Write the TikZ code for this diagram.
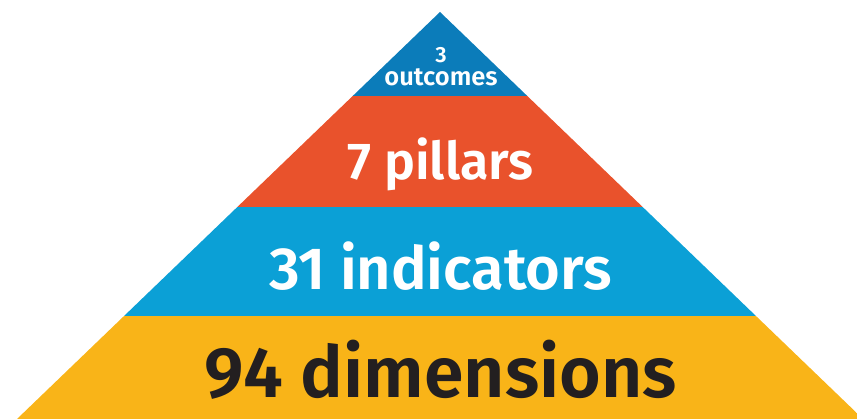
\documentclass[tikz,border=0pt]{standalone}
\usepackage{fontspec}
\setmainfont{Fira Sans}[BoldFont={Fira Sans SemiBold}]

\definecolor{topblue}{RGB}{11,124,186}
\definecolor{pillarred}{RGB}{233,82,44}
\definecolor{midblue}{RGB}{11,160,214}
\definecolor{baseyellow}{RGB}{249,180,24}
\definecolor{inkdark}{RGB}{35,31,32}

\tikzset{
    level/.style={font=\bfseries, anchor=base, inner sep=0pt},
}

\begin{document}
\begin{tikzpicture}[x=1pt,y=-1pt]

%page frame
\useasboundingbox (0,0) rectangle (857,419);
\clip (0,0) rectangle (857,419);

%draws the pyramid, one band at a time
\begin{scope}
\clip (440,12) -- (863,419) -- (17,419) -- cycle;
\fill[topblue] (0,0) rectangle (900,96);
\fill[pillarred] (0,96) rectangle (900,207);
\fill[midblue] (0,207) rectangle (900,316);
\fill[baseyellow] (0,316) rectangle (900,430);
\end{scope}

%label the bands
\node[level, white, font=\bfseries\fontsize{22}{22}\selectfont] (three) at (441,63) {3};
\node[level, white, font=\bfseries\fontsize{25.5}{25.5}\selectfont] (outcomes) at (441,86) {outcomes};
\node[level, white, font=\bfseries\fontsize{52}{52}\selectfont] (pillars) at (440.5,180) {7 pillars};
\node[level, white, font=\bfseries\fontsize{59.5}{59.5}\selectfont] (indicators) at (440.5,290) {31 indicators};
\node[level, inkdark, font=\bfseries\fontsize{71.5}{71.5}\selectfont] (dimensions) at (441,398) {94 dimensions};

\end{tikzpicture}
\end{document}
